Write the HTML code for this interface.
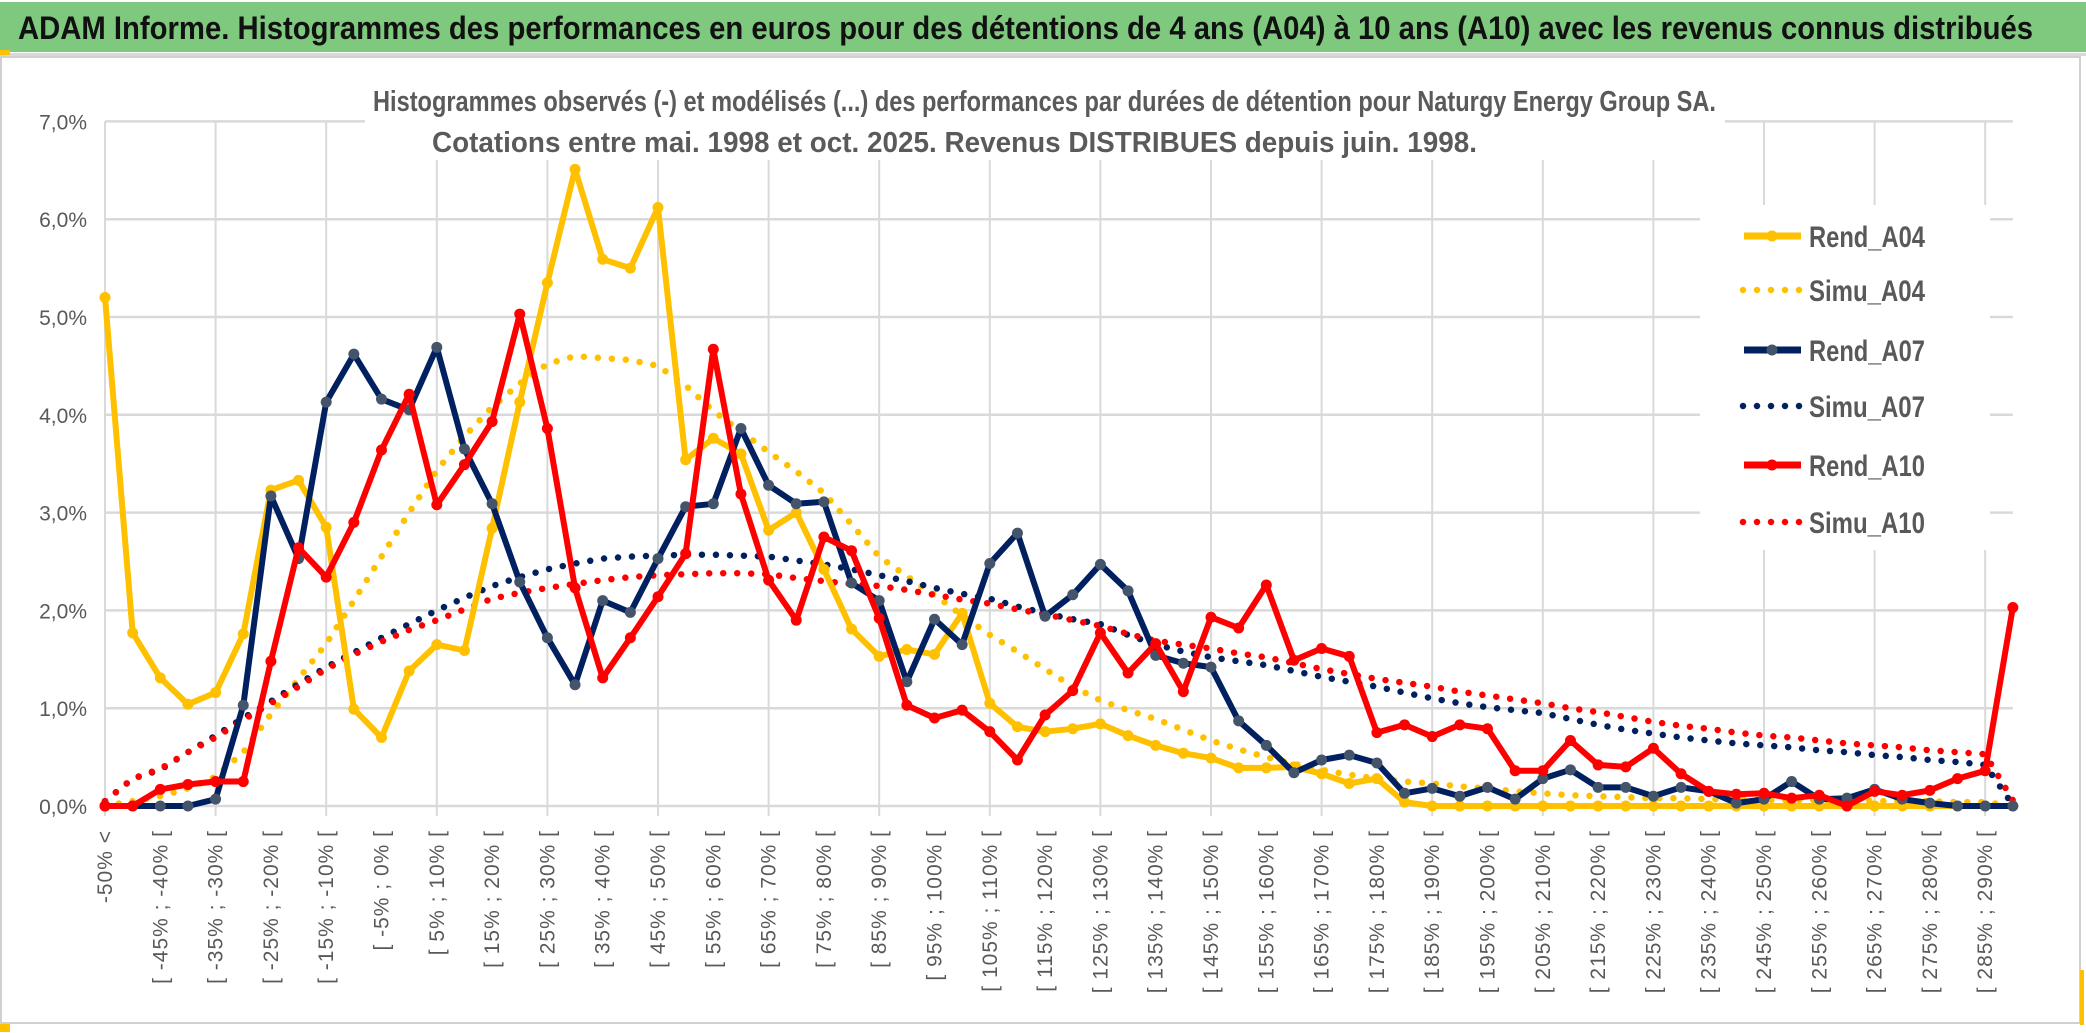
<!DOCTYPE html>
<html><head><meta charset="utf-8"><title>ADAM Informe histogrammes</title>
<style>
html,body{margin:0;padding:0;background:#fff;}
body{width:2086px;height:1033px;overflow:hidden;position:relative;font-family:"Liberation Sans",sans-serif;}
svg{position:absolute;left:0;top:0;}
</style></head>
<body>
<svg id="chart" width="2086" height="1033" viewBox="0 0 2086 1033" xmlns="http://www.w3.org/2000/svg">
  <rect x="0" y="2" width="2086" height="50" fill="#7fc97f"/>
  <rect x="0" y="53" width="2086" height="3" fill="#d9d9d9"/>
  <rect x="0" y="50" width="10" height="5" fill="#ffc000"/>
  <text x="18" y="39" textLength="2015" lengthAdjust="spacingAndGlyphs" font-family="Liberation Sans, sans-serif" font-weight="bold" font-size="32" fill="#111">ADAM Informe. Histogrammes des performances en euros pour des détentions de 4 ans (A04) à 10 ans (A10) avec les revenus connus distribués</text>
  <rect x="1" y="57" width="2079" height="966" fill="none" stroke="#d0d0d0" stroke-width="2"/>
  <rect x="0" y="1024" width="10" height="8" fill="#ffc000"/>
  <rect x="2080" y="970" width="4" height="55" fill="#ffc000"/>
  <g id="grid"></g>
  <g id="yaxis"></g>
  <g id="xaxis"></g>
  <rect x="365" y="75" width="1360" height="85" fill="#fff"/>
  <text x="373" y="111" textLength="1343" lengthAdjust="spacingAndGlyphs" font-size="29" font-weight="bold" fill="#5a5a5a">Histogrammes observés (-) et modélisés (...) des performances par durées de détention pour Naturgy Energy Group SA.</text>
  <text x="432" y="152" textLength="1045" lengthAdjust="spacingAndGlyphs" font-size="29" font-weight="bold" fill="#5a5a5a">Cotations entre mai. 1998 et oct. 2025. Revenus DISTRIBUES depuis juin. 1998.</text>
  <rect x="1700" y="205" width="290" height="345" fill="#fff"/>
  <g id="series"></g>
  <g id="legend"></g>
</svg>
<script>
const categories = ["-50% <"];
for (let n = 1; n < 70; n++) { categories.push("[ " + (-55 + 5 * n) + "% ; " + (-50 + 5 * n) + "% ["); }
const yTicks = [0, 1, 2, 3, 4, 5, 6, 7];
const yTickLabels = ["0,0%", "1,0%", "2,0%", "3,0%", "4,0%", "5,0%", "6,0%", "7,0%"];
const seriesNames = ["Rend_A04", "Simu_A04", "Rend_A07", "Simu_A07", "Rend_A10", "Simu_A10"];
const rendA04 = [5.2,1.77,1.31,1.04,1.16,1.76,3.23,3.33,2.85,0.99,0.7,1.38,1.65,1.59,2.84,4.13,5.35,6.51,5.59,5.5,6.12,3.54,3.76,3.6,2.82,3.0,2.42,1.81,1.53,1.6,1.55,1.97,1.05,0.81,0.76,0.79,0.84,0.72,0.62,0.54,0.49,0.39,0.39,0.4,0.33,0.23,0.28,0.04,0,0,0,0,0,0,0,0,0,0,0,0,0,0,0,0,0,0,0,0,0,0];
const simuA04 = [0,0.05,0.1,0.18,0.3,0.55,0.94,1.3,1.66,2.1,2.55,3.0,3.43,3.78,4.08,4.32,4.52,4.6,4.58,4.56,4.5,4.3,4.04,3.83,3.62,3.42,3.2,2.88,2.55,2.35,2.16,1.95,1.75,1.58,1.4,1.22,1.08,0.98,0.89,0.78,0.67,0.58,0.5,0.43,0.37,0.32,0.28,0.25,0.23,0.2,0.18,0.15,0.13,0.11,0.1,0.09,0.08,0.08,0.07,0.07,0.06,0.06,0.06,0.05,0.05,0.05,0.05,0.04,0.04,0];
const rendA07 = [0,0,0,0,0.07,1.03,3.17,2.53,4.13,4.62,4.16,4.05,4.69,3.65,3.09,2.29,1.72,1.24,2.1,1.98,2.53,3.06,3.09,3.86,3.28,3.09,3.11,2.28,2.1,1.27,1.91,1.65,2.48,2.79,1.94,2.16,2.47,2.2,1.54,1.46,1.42,0.87,0.62,0.34,0.47,0.52,0.44,0.13,0.18,0.1,0.19,0.07,0.28,0.37,0.19,0.19,0.1,0.19,0.15,0.03,0.07,0.25,0.07,0.08,0.17,0.07,0.03,0,0,0];
const simuA07 = [0.05,0.28,0.37,0.55,0.72,0.9,1.07,1.25,1.42,1.57,1.72,1.86,2.0,2.13,2.25,2.34,2.42,2.48,2.53,2.55,2.56,2.57,2.57,2.56,2.55,2.51,2.47,2.42,2.36,2.3,2.23,2.17,2.12,2.04,1.97,1.91,1.86,1.75,1.65,1.58,1.52,1.48,1.44,1.38,1.32,1.27,1.22,1.16,1.1,1.05,1.01,0.98,0.95,0.89,0.83,0.78,0.74,0.7,0.67,0.64,0.62,0.6,0.57,0.55,0.52,0.5,0.47,0.45,0.42,0.01];
const rendA10 = [0,0,0.17,0.22,0.25,0.25,1.48,2.64,2.34,2.9,3.64,4.21,3.08,3.49,3.93,5.03,3.86,2.23,1.31,1.72,2.14,2.58,4.67,3.19,2.31,1.9,2.75,2.61,1.92,1.03,0.9,0.98,0.76,0.47,0.93,1.18,1.77,1.36,1.66,1.17,1.93,1.82,2.26,1.49,1.61,1.53,0.75,0.83,0.71,0.83,0.79,0.36,0.36,0.67,0.42,0.4,0.59,0.33,0.15,0.12,0.13,0.08,0.11,0,0.15,0.11,0.16,0.28,0.36,2.03];
const simuA10 = [0.05,0.28,0.38,0.55,0.7,0.88,1.05,1.22,1.4,1.55,1.68,1.8,1.9,2.01,2.12,2.18,2.23,2.27,2.31,2.34,2.36,2.37,2.38,2.38,2.37,2.33,2.3,2.27,2.25,2.21,2.16,2.11,2.07,2.01,1.96,1.9,1.84,1.76,1.69,1.65,1.61,1.56,1.52,1.46,1.4,1.35,1.3,1.26,1.22,1.17,1.13,1.09,1.05,1.0,0.96,0.91,0.86,0.82,0.79,0.75,0.72,0.7,0.67,0.64,0.62,0.6,0.57,0.55,0.53,0.06];

const NS = "http://www.w3.org/2000/svg";
const X0 = 105, DX = 27.65, Y0 = 806, DY = 97.8;
function xPos(i) { return X0 + i * DX; }
function yPos(v) { return Y0 - v * DY; }
function mk(tag, attrs, parent) {
  const e = document.createElementNS(NS, tag);
  for (const k in attrs) e.setAttribute(k, attrs[k]);
  parent.appendChild(e);
  return e;
}
const grid = document.getElementById("grid");
const yaxis = document.getElementById("yaxis");
const xaxis = document.getElementById("xaxis");
const series = document.getElementById("series");
const legend = document.getElementById("legend");
const xEnd = xPos(categories.length - 1);

yTicks.forEach((t, k) => {
  const l = mk("line", {x1: X0, x2: xEnd, y1: yPos(t), y2: yPos(t), stroke: "#d9d9d9", "stroke-width": 2.5}, grid);
  
  
  const tx = mk("text", {x: 87, y: yPos(t) + 8, "text-anchor": "end", "font-size": 21, fill: "#595959"}, yaxis);
  
  
  tx.textContent = yTickLabels[k];
});
for (let i = 0; i < categories.length; i += 4) {
  const l = mk("line", {x1: xPos(i), x2: xPos(i), y1: yPos(7), y2: Y0 + 10, stroke: "#d9d9d9", "stroke-width": 2}, grid);
  
  
}
for (let i = 0; i < categories.length - 1; i += 2) {
  const x = xPos(i) + 7, y = 830;
  const tx = mk("text", {x: x, y: y, transform: "rotate(-90 " + x + " " + y + ")", "text-anchor": "end", "font-size": 21, "letter-spacing": "1", fill: "#595959"}, xaxis);
  
  
  tx.textContent = categories[i];
}

function drawSolid(vals, color, markerColor, name) {
  const pts = vals.map((v, i) => xPos(i).toFixed(1) + "," + yPos(v).toFixed(1)).join(" ");
  const pl = mk("polyline", {points: pts, fill: "none", stroke: color, "stroke-width": 6, "stroke-linejoin": "round"}, series);
  
  
  vals.forEach((v, i) => {
    const c = mk("circle", {cx: xPos(i), cy: yPos(v), r: 5.5, fill: markerColor}, series);
    
    
  });
}
function drawDotted(vals, color, name) {
  const pts = vals.map((v, i) => xPos(i).toFixed(1) + "," + yPos(v).toFixed(1)).join(" ");
  const pl = mk("polyline", {points: pts, fill: "none", stroke: color, "stroke-width": 6.5, "stroke-linecap": "round", "stroke-dasharray": "0 14"}, series);
  
  
}
drawDotted(simuA04, "#ffc000", "simu-a04");
drawDotted(simuA07, "#002060", "simu-a07");
drawDotted(simuA10, "#ff0000", "simu-a10");
drawSolid(rendA04, "#ffc000", "#ffc000", "rend-a04");
drawSolid(rendA07, "#002060", "#44546a", "rend-a07");
drawSolid(rendA10, "#ff0000", "#ff0000", "rend-a10");

const legendColors = ["#ffc000", "#ffc000", "#002060", "#002060", "#ff0000", "#ff0000"];
const legendMarkers = ["#ffc000", "", "#44546a", "", "#ff0000", ""];
const legendY = [236, 290, 350, 406, 465, 522];
seriesNames.forEach((nm, k) => {
  const g = mk("g", {}, legend);
  
  
  const y = legendY[k];
  if (k % 2 === 0) {
    mk("line", {x1: 1744, x2: 1801, y1: y, y2: y, stroke: legendColors[k], "stroke-width": 7}, g);
    mk("circle", {cx: 1772, cy: y, r: 5.5, fill: legendMarkers[k]}, g);
  } else {
    mk("line", {x1: 1743, x2: 1801, y1: y, y2: y, stroke: legendColors[k], "stroke-width": 6.5, "stroke-linecap": "round", "stroke-dasharray": "0 14"}, g);
  }
  const t = mk("text", {x: 1809, y: y + 11, "font-size": 30, "font-weight": "bold", fill: "#595959", textLength: 116, lengthAdjust: "spacingAndGlyphs"}, g);
  t.textContent = nm;
});
</script>
</body></html>
